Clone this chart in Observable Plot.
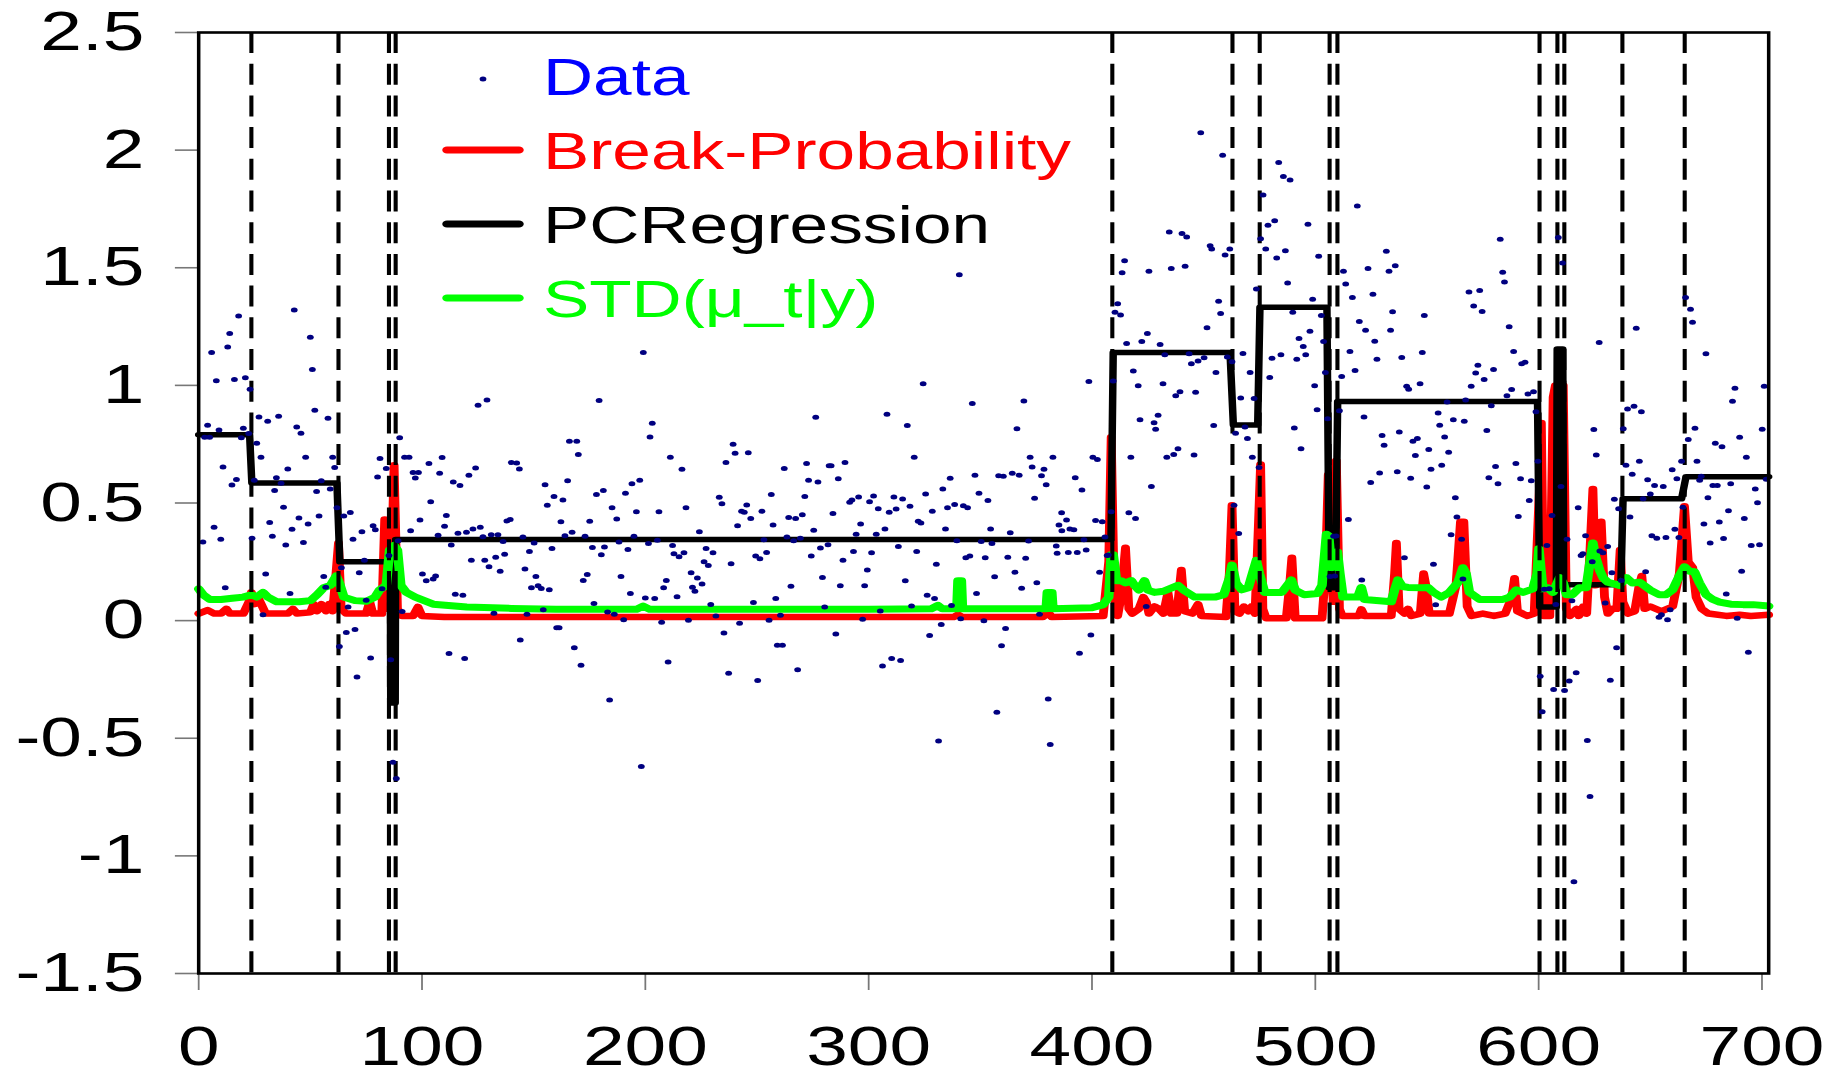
<!DOCTYPE html>
<html><head><meta charset="utf-8">
<script src="https://cdn.jsdelivr.net/npm/d3@7"></script>
<script src="https://cdn.jsdelivr.net/npm/@observablehq/plot@0.6"></script>
<style>
html,body{margin:0;padding:0;background:#fff;}
#chart{width:1834px;height:1079px;overflow:hidden;}
</style></head><body><div id="chart"></div>
<script>
const xTicks = [0,100,200,300,400,500,600,700];
const yTicks = [-1.5,-1,-0.5,0,0.5,1,1.5,2,2.5];
const breakLocations = [23.6,62.6,85.2,88.2,409.1,462.9,475.1,506.4,509.9,600.4,608.4,611.5,637.5,665.4];

const observations = [
[1.9,0.334],[2.7,0.78],[4,0.83],[4.9,0.78],[5.8,1.14],[6.9,0.397],[7.9,1.02],[9.1,0.81],[9.9,0.346],[10.9,0.653],[11.9,0.14],[13,1.163],[13.9,1.22],[14.9,0.576],[16,1.025],[16.9,0.6],[17.9,1.295],[19.1,0.777],[20,0.818],[20.9,1.032],[22.4,0.795],[23,0.984],[23.9,0.35],[24.9,0.597],[26,0.754],[27,0.866],[27.9,0.695],[28.8,0.025],[30,0.198],[30.9,0.848],[31.8,0.417],[33,0.359],[34,0.553],[34.8,0.607],[35.8,0.869],[36.9,0.584],[38,0.482],[39,0.321],[39.9,0.645],[40.9,0.115],[41.8,0.388],[42.8,1.32],[43.9,0.823],[44.9,0.436],[45.8,0.797],[46.9,0.332],[47.9,0.695],[49,0.411],[50,1.205],[50.9,1.067],[52,0.894],[52.8,0.549],[53.9,0.445],[54.9,0.595],[56,0.188],[56.9,0.142],[57.9,0.86],[58.9,0.559],[60,0.695],[60.9,0.651],[61.9,0.48],[63,-0.11],[63.9,0.225],[65,0.445],[66.1,-0.05],[66.9,0.058],[67.9,0.46],[69.1,0.346],[70,-0.038],[70.9,-0.24],[71.9,0.204],[73.1,0.378],[74.2,0.257],[75,0.087],[77,-0.159],[78.1,0.403],[79.1,0.386],[80.1,0.61],[81.2,0.689],[82.1,0.135],[84,0.647],[85.2,0.277],[86,-0.166],[87,-0.602],[88.5,-0.671],[89.3,0.34],[90,0.777],[91.1,0.039],[92.2,0.695],[94.2,0.695],[94.9,0.382],[96,0.63],[97,0.606],[98.4,0.63],[99.1,0.428],[100.2,0.198],[101.9,0.169],[103.1,0.668],[103.9,0.505],[105,0.177],[106.1,0.19],[107.2,0.363],[107.9,0.626],[109,0.693],[110.1,0.401],[110.9,0.447],[112.1,-0.14],[113.1,0.321],[114,0.589],[114.9,0.112],[116.1,0.371],[117,0.574],[118.3,0.108],[119.1,-0.161],[119.9,0.376],[121,0.618],[122.1,0.257],[122.8,0.39],[124,0.649],[125.1,0.915],[126.1,0.397],[127.3,0.357],[128.1,0.257],[129.1,0.938],[130,0.229],[131,0.365],[132.2,0.031],[133,0.269],[134,0.365],[135,0.21],[136.3,0.336],[137,0.282],[138,0.424],[139.5,0.43],[140,0.672],
[142.4,0.67],[143.6,0.645],[144,-0.082],[145.2,0.355],[146.1,0.219],[147,0.027],[148.1,0.294],[149,0.14],[150.2,0.33],[151,0.188],[152,0.148],[153.4,0.137],[154.3,0.046],[155.1,0.578],[156.1,0.49],[157,0.131],[158.2,0.307],[159.1,0.528],[160.3,-0.03],[161.4,-0.03],[162.2,0.42],[163.1,0.513],[164,0.361],[165.2,0.595],[166,0.762],[167.2,0.376],[168.2,-0.115],[169.3,0.762],[170,0.706],[171.2,-0.19],[172.2,0.171],[173,0.359],[174,0.196],[175.1,0.422],[176.3,0.311],[177,0.073],[178.1,0.536],[179.3,0.936],[180.3,0.28],[181.2,0.553],[181.7,0.313],[183.1,0.037],[184,-0.337],[185.1,0.48],[186.1,0.027],[187.2,0.432],[188.2,0.334],[189.1,0.188],[190.3,0.004],[191.1,0.541],[192.2,0.302],[193.3,0.115],[194,0.582],[194.9,0.359],[196,0.463],[197.5,0.597],[198.2,-0.62],[199.1,1.14],[200,0.096],[201.4,0.328],[202.1,0.781],[203.1,0.839],[204.2,0.094],[205.4,0.342],[206.1,0.463],[207.3,-0.007],[208.2,0.14],[209.4,0.171],[210.2,-0.176],[211.2,0.695],[212.2,0.319],[212.8,0.284],[214.2,0.102],[215.1,0.271],[216.4,0.643],[217.3,0.288],[218.2,0.48],[219.3,0.002],[220.5,0.204],[221.1,0.142],[222.2,0.125],[223.3,0.181],[224.2,0.378],[225.4,0.156],[226.3,0.25],[227.2,0.307],[228.2,0.234],[229.3,0.069],[230.3,0.288],[231.6,0.02],[233.1,0.524],[234.3,0.497],[235.2,-0.053],[236.1,0.672],[237.3,-0.224],[238.4,0.242],[239.3,0.75],[240.2,0.712],[241.3,0.403],[242.2,-0.011],[243.1,0.465],[244.3,0.461],[245.4,0.492],[246.1,0.714],[247.2,0.434],[248.4,0.077],[249.4,0.275],[250.3,-0.255],[251.3,0.263],[252.2,0.465],[253.1,0.344],[254.3,0.29],[255.4,0.002],[256.4,0.536],[257.2,0.407],[258.4,0.094],[259.1,-0.105],[260.5,0.023],[261.4,-0.105],[262.2,0.647],[263.4,0.355],[264.2,0.438],[265.2,0.146],[266.4,0.34],[267.3,0.434],[268.2,-0.209],[269.4,0.35],[270.3,0.45],[271.4,0.528],[272.2,0.668],[273.1,0.597],[274.3,0.275],[275.4,0.384],[276.3,0.864],[277.3,0.589],[278.4,0.309],[279.3,0.183],[280.3,0.058],[281.8,0.323],[282.3,0.658],
[283.2,0.658],[284,0.455],[285.3,-0.057],[286.4,0.603],[287.3,0.148],[288.5,0.257],[289.4,0.672],[291.5,0.503],[292.5,0.513],[293.2,0.294],[294.4,0.367],[295.5,0.526],[296.4,0.411],[297.3,0.006],[298.2,0.148],[299.4,0.215],[300.4,0.505],[301.3,0.288],[302.2,0.53],[303.4,0.367],[304.3,0.476],[305.2,0.041],[306.2,-0.193],[307.3,0.39],[308.2,0.877],[309.2,0.461],[310.3,-0.161],[311.3,0.526],[312.3,0.474],[313.3,0.315],[314.3,-0.17],[315.2,0.517],[316.4,0.169],[317.3,0.829],[318.5,0.486],[319.2,0.062],[320.4,0.695],[321.5,0.294],[322.2,0.422],[323.4,0.415],[324.4,1.007],[325.5,0.538],[326.2,0.108],[327.3,-0.063],[328.5,0.465],[329.5,0.094],[330.3,0.24],[331.3,-0.512],[332.5,-0.017],[333.2,0.559],[334.4,0.39],[335.3,0.48],[336.5,0.605],[337.1,0.064],[338.5,0.494],[339.5,0.34],[340.6,1.47],[341.2,0.008],[342.4,0.488],[343.5,0.267],[344.3,0.48],[345.3,0.275],[346.4,0.923],[347.6,0.618],[348.3,0.115],[349.4,0.541],[350.4,0.336],[351.6,0],[352.2,0.267],[353.4,0.511],[354.6,0.39],[355.2,0.328],[356.4,0.186],[357.4,-0.389],[358.2,0.616],[359.5,-0.107],[360.3,0.614],[361.3,-0.034],[362.3,0.269],[363.4,0.374],[364.3,0.626],[365.5,0.206],[366.4,0.816],[367.4,0.618],[368.5,0.138],[369.5,0.934],[370.3,0.265],[371.6,0.338],[372.3,0.695],[373.2,0.653],[374.3,0.52],[375.3,0.161],[376.5,0.027],[377.4,0.616],[378.5,0.643],[379.5,0.578],[380.4,-0.333],[381.3,-0.527],[382.5,0.695],[384,0.317],[384.4,0.286],[385.2,0.407],[386.4,0.459],[386.5,0.382],[388.6,0.428],[389.4,0.29],[390.1,0.39],[391.9,0.386],[392.5,0.607],[393.4,0.29],[394.4,-0.139],[395.5,0.555],[396.4,0.344],[397.4,0.3],[398.6,1.017],[399.5,-0.061],[400.4,0.695],[401.6,0.426],[402.4,0.685],[403.4,0.206],[404.6,0.42],[405.8,0.355],[406.8,0.277],[407.3,0.279],[408.6,0.463],[409.5,1.019],[410.3,1.311],[411.5,1.347],[412.8,1.299],[413.5,1.479],[414.6,1.53],[415.5,1.178],[416.5,0.459],[417.4,0.695],[418.5,1.061],[419.5,0.434],[420.7,0.998],[421.5,0.854],[422.3,1.186],
[424.3,0.06],[424.8,1.22],[425.5,1.485],[426.6,0.57],[427.8,0.841],[428.5,0.814],[429.6,0.873],[430.5,1.174],[431.8,1.007],[432.6,1.13],[433.5,0.695],[434.6,1.652],[435.5,1.497],[436.6,0.706],[437.5,0.956],[438.5,0.731],[439.4,0.973],[440.3,1.646],[441.7,1.506],[442.4,1.631],[443.5,1.134],[444.5,1.092],[445.7,0.704],[446.4,0.971],[447.5,1.104],[448.7,2.074],[450.2,1.117],[451.5,1.245],[452.9,1.593],[453.6,1.58],[454.5,0.829],[455.5,1.055],[456.7,1.358],[457.6,1.305],[458.5,1.978],[459.6,1.554],[460.6,1.121],[461.7,1.58],[462.7,1.1],[463.6,0.49],[464.3,0.796],[465.7,0.37],[466.6,0.946],[467.6,1.136],[468.5,0.823],[469.6,0.774],[470.8,1.055],[471.8,0.695],[472.6,0.944],[473.6,1.41],[474.8,0.651],[475.5,1.623],[476.6,1.809],[477.8,1.58],[478.8,1.681],[479.6,1.034],[480.6,1.115],[481.8,1.7],[482.7,1.541],[483.6,1.947],[484.6,1.13],[485.7,1.888],[486.6,1.572],[487.6,1.435],[488.7,1.873],[489.9,1.311],[490.6,0.819],[491.7,1.111],[492.7,1.199],[493.6,0.731],[494.6,1.165],[495.7,1.13],[496.7,1.685],[497.6,1.23],[498.8,1.366],[499.7,0.998],[500.8,0.896],[501.5,1.549],[502.7,1.297],[503.7,1.186],[504.5,1.055],[505.5,0.858],[506.6,0.188],[508.2,0.359],[508.7,0.19],[509.3,0.36],[510.8,0.892],[511.8,1.038],[512.6,1.485],[513.6,1.431],[514.8,0.43],[515.5,1.144],[516.6,1.374],[517.8,1.063],[518.8,1.763],[519.7,1.272],[520.8,0.173],[521.8,0.866],[522.5,1.234],[523.6,1.497],[524.8,0.587],[525.8,1.387],[526.6,1.188],[527.6,1.111],[528.8,0.628],[529.9,0.787],[530.8,0.745],[531.8,1.57],[533,1.485],[533.7,1.234],[534.6,1.313],[535.8,1.508],[536.7,0.633],[537.6,0.802],[538.7,1.119],[539.9,0.267],[540.9,0.996],[541.8,0.983],[542.7,0.605],[543.7,0.762],[544.8,0.702],[545.7,0.774],[546.9,1.007],[547.9,1.14],[548.8,1.297],[549.9,0.568],[550.8,0.727],[551.8,0.643],[552.9,0.24],[553.9,0.067],[555,0.883],[555.7,0.831],[556.6,0.66],[557.9,0.781],[559,0.929],[559.7,0.716],[560.8,0.365],[561.8,0.854],[562.7,0.522],[563.4,0.44],
[565.5,0.346],[566.1,0.177],[566.7,0.848],[567.3,0.938],[568.8,1.397],[569.8,0.996],[570.9,1.337],[571.8,1.053],[572.8,1.086],[573.6,1.403],[574.7,1.314],[575.6,1.025],[576.8,0.808],[577.7,0.607],[578.8,0.913],[579.8,1.067],[580.7,0.655],[581.8,0.582],[582.8,1.621],[583.9,1.481],[584.7,1.439],[585.8,0.956],[586.8,1.249],[587.9,0.982],[588.8,1.144],[589.8,0.668],[590.9,0.443],[591.9,0.603],[592.4,1.092],[593.9,1.098],[595.2,0.963],[595.8,0.511],[596.7,0.595],[597.7,0.973],[598.8,0.888],[599.7,0.678],[600.7,-0.236],[601.6,-0.387],[602.5,0.133],[603.7,0.319],[604.7,0.135],[606,0.447],[606.7,-0.293],[607.7,0.069],[608.8,1.629],[610,0.57],[610.7,1.52],[611.6,-0.297],[612.7,0.346],[613.7,-0.257],[614.9,0.085],[615.8,-1.11],[616.8,-0.222],[617.7,0.48],[619,0.277],[619.8,0.284],[621,0.361],[621.8,-0.51],[623,-0.748],[624,0.25],[624.7,0.812],[625.8,0.704],[627.1,1.182],[627.4,0.296],[628.8,0.288],[629.8,0.075],[630.9,0.315],[632.1,-0.253],[632.8,0.204],[633.9,0.516],[634.9,-0.115],[635.8,0.476],[637,0.171],[637.9,0.816],[639.1,0.66],[639.8,0.9],[640.9,0.44],[641.9,0.622],[642.7,0.911],[643.7,1.243],[645.1,0.678],[646,0.888],[646.8,0.518],[647.9,0.208],[648.8,0.599],[650,0.538],[650.7,0.361],[651.9,0.574],[652.9,0.35],[653.9,0.014],[655,0.025],[655.8,0.57],[657,0.353],[657.7,0.004],[658.9,0.046],[659.8,0.641],[661,0.388],[661.9,0.603],[662.8,0.353],[664,0.678],[664.6,0.482],[665.8,1.374],[667,0.77],[668,1.324],[668.9,1.268],[670,0.818],[670.9,0.678],[672.1,0.597],[672.8,0.614],[674,0.411],[674.9,1.134],[675.8,0.522],[676.8,0.33],[678,0.574],[679.1,0.754],[680,0.574],[680.9,0.419],[682.1,0.739],[682.8,0.349],[684,0.113],[685,0.467],[686,0.582],[686.8,0.933],[687.9,0.988],[688.9,0.01],[690,0.779],[690.9,0.21],[692.1,0.434],[693,0.695],[693.9,-0.134],[695.2,0.319],[697,0.559],[698,0.501],[698.9,0.323],[700.1,0.814],[701,0.996],[701.9,0.601]
];

const pcRegression = [
[0,0.79],[22.8,0.79],[23.8,0.585],[61.9,0.585],[63.2,0.25],[85.8,0.25],[86.0,-0.35],[88.0,-0.35],[88.2,0.345],[408.5,0.345],[409.5,1.14],[461.8,1.14],[463.3,0.832],[474.2,0.832],[475.2,1.332],[505.2,1.332],[506.2,0.14],[509,0.14],[510,0.931],[599.5,0.931],[600.5,0.058],[607.9,0.058],[608.3,1.155],[610.8,1.155],[611.2,0.152],[636.8,0.152],[637.8,0.518],[664,0.518],[666,0.612],[703,0.612]
];

const breakProbability = [
[0,0.03],[4,0.045],[7,0.03],[10,0.03],[12.4,0.05],[14,0.03],[20,0.03],[22.5,0.08],[23.6,0.12],[25,0.07],[26.5,0.1],[28,0.07],[30,0.03],[40,0.03],[42.2,0.05],[44,0.03],[50,0.035],[51.5,0.07],[53,0.04],[55,0.07],[57,0.04],[58.5,0.07],[60,0.04],[61.5,0.2],[62.6,0.33],[63.8,0.05],[66,0.03],[75,0.03],[76.6,0.08],[78,0.03],[82,0.03],[83.3,0.43],[84.5,0.05],[86,0.1],[87.5,0.66],[89,0.05],[91,0.02],[96,0.02],[98.2,0.058],[100,0.02],[110,0.015],[200,0.015],[300,0.015],[338,0.015],[340,0.025],[342,0.015],[378,0.015],[380.3,0.037],[382,0.015],[405,0.02],[407.5,0.25],[408.6,0.78],[410,0.1],[411.5,0.02],[413,0.1],[415,0.31],[416.5,0.05],[418,0.03],[421,0.05],[423,0.1],[424.3,0.08],[425.5,0.03],[428,0.06],[430,0.05],[432,0.03],[434,0.12],[435.5,0.03],[438,0.03],[440,0.215],[441.5,0.04],[445,0.03],[447.5,0.07],[449,0.02],[460,0.015],[461.5,0.2],[462.7,0.49],[464,0.04],[466,0.03],[468,0.06],[470,0.04],[471.5,0.06],[473,0.03],[474.5,0.4],[475.5,0.664],[476.5,0.05],[478,0.01],[487,0.01],[488.5,0.15],[489.5,0.267],[491,0.01],[503,0.01],[504.5,0.2],[505.8,0.62],[507,0.3],[508,0.08],[509.4,0.68],[510.8,0.05],[512,0.02],[519.5,0.02],[520.6,0.048],[522,0.02],[534,0.02],[535.5,0.2],[536.3,0.33],[537.5,0.05],[540,0.03],[541.5,0.05],[543,0.02],[547,0.03],[548.5,0.2],[549.5,0.15],[551,0.03],[556,0.03],[560,0.03],[563,0.15],[565,0.42],[566.5,0.42],[568,0.06],[570,0.02],[575,0.03],[580,0.02],[585,0.03],[588,0.1],[589.2,0.18],[590.5,0.04],[595,0.02],[598,0.03],[600.3,0.55],[601.2,0.84],[602.3,0.02],[605,0.02],[606.5,0.95],[607.5,1.0],[611,1.0],[612.4,0.05],[614,0.02],[617,0.05],[618,0.02],[620,0.06],[621.5,0.03],[623,0.3],[624.3,0.56],[625.5,0.15],[627,0.3],[628,0.42],[629.5,0.1],[631,0.03],[633,0.05],[635,0.05],[636.5,0.3],[637.7,0.08],[640,0.03],[643,0.04],[645,0.15],[646.2,0.19],[647.5,0.05],[650,0.06],[655,0.04],[660,0.06],[663,0.2],[665.3,0.486],[667,0.25],[669,0.225],[670.5,0.1],[673,0.05],[676,0.03],[684,0.02],[690,0.025],[695,0.02],[703,0.025]
];

const stdMu = [
[0,0.135],[2,0.11],[5,0.09],[10,0.09],[15,0.095],[20,0.1],[23.6,0.11],[26,0.1],[28.8,0.12],[31,0.1],[35,0.08],[45,0.08],[50,0.085],[53,0.11],[56,0.14],[59,0.15],[61.6,0.19],[63,0.16],[65,0.1],[70,0.085],[75,0.082],[79,0.1],[81,0.13],[84,0.15],[85.5,0.3],[87.5,0.32],[89,0.3],[90.5,0.15],[93,0.12],[97,0.1],[105,0.07],[120,0.058],[140,0.052],[160,0.048],[196,0.048],[199,0.062],[202,0.048],[300,0.048],[328,0.05],[331,0.065],[333,0.05],[339.5,0.05],[340,0.17],[341.5,0.17],[342,0.05],[379.5,0.05],[380,0.12],[382,0.12],[382.5,0.05],[400,0.055],[405,0.068],[407.5,0.1],[408.6,0.28],[409.5,0.28],[411,0.17],[413,0.17],[415,0.16],[417.6,0.17],[419,0.15],[421,0.13],[423.5,0.17],[425,0.13],[428,0.12],[432,0.125],[438.5,0.15],[441,0.13],[446,0.1],[455,0.1],[459,0.11],[461.5,0.18],[462.7,0.236],[464.5,0.16],[467,0.131],[470,0.14],[473.6,0.256],[475,0.2],[477.3,0.12],[485,0.12],[489.3,0.173],[491,0.13],[495,0.11],[501,0.115],[503,0.15],[505,0.367],[506,0.36],[507.2,0.225],[508.5,0.25],[509.9,0.292],[511,0.2],[512.4,0.1],[519,0.1],[520.6,0.141],[522,0.09],[534,0.08],[535.5,0.13],[537,0.173],[539,0.145],[541.5,0.141],[548,0.14],[550.5,0.141],[553,0.12],[556.4,0.1],[560,0.12],[563.9,0.163],[566.1,0.225],[567.5,0.2],[569,0.12],[573.6,0.09],[584,0.09],[587,0.1],[590,0.131],[593,0.12],[597.4,0.135],[599.3,0.2],[600.1,0.305],[601.2,0.2],[601.9,0.135],[604,0.14],[606.4,0.12],[609.4,0.183],[611,0.16],[612.5,0.11],[615,0.11],[618.3,0.14],[621.3,0.14],[623,0.25],[624.3,0.33],[625.5,0.27],[627.3,0.215],[629,0.18],[631,0.163],[636.2,0.15],[639.2,0.183],[642,0.16],[645.2,0.163],[650,0.13],[654,0.11],[657,0.11],[660,0.131],[663,0.19],[665.3,0.229],[667.5,0.21],[669.8,0.208],[672,0.16],[675,0.11],[678,0.09],[681,0.079],[686,0.07],[691.5,0.068],[696,0.068],[703,0.062]
];

const legendLabels = ["Data","Break-Probability","PCRegression","STD(μ_t|y)"];
const legendColors = ["#0000ff","#ff0000","#000000","#00ff00"];
const legendKinds = ["dot","line","line","line"];

const toRows = arr => arr.map(([t, v]) => ({t, v}));
const FONT = "'Liberation Sans', Arial, Helvetica, sans-serif";

// The reference is a horizontally stretched rendering; draw in a narrower
// coordinate space and stretch the SVG to the page width.
const W = 1834, H = 1079, STRETCH = 1.36;
const W0 = W / STRETCH;

const plot = Plot.plot({
  width: W0, height: H,
  marginLeft: 198 / STRETCH, marginRight: 66 / STRETCH, marginTop: 32, marginBottom: 106,
  x: {domain: [0, 703]},
  y: {domain: [-1.5, 2.5]},
  style: {fontFamily: FONT, background: "#fff", color: "#000"},
  marks: [
    Plot.axisY({ticks: yTicks, tickSize: 17, tickPadding: 23, fontSize: 55, tickFormat: d => String(d), stroke: "#777", strokeWidth: 1.6, fill: "#000", label: null}),
    Plot.axisX({ticks: xTicks, tickSize: 17, tickPadding: 35, fontSize: 55, tickFormat: d => String(d), stroke: "#777", strokeWidth: 1.3, fill: "#000", label: null}),
    Plot.line(toRows(breakProbability), {x: "t", y: "v", stroke: "#ff0000", strokeWidth: 6.5, strokeLinejoin: "round"}),
    Plot.line(toRows(pcRegression), {x: "t", y: "v", stroke: "#000000", strokeWidth: 5.5, strokeLinejoin: "round"}),
    Plot.line(toRows(stdMu), {x: "t", y: "v", stroke: "#00ff00", strokeWidth: 7, strokeLinejoin: "round"}),
    Plot.ruleX(breakLocations, {stroke: "#000", strokeWidth: 3, strokeDasharray: "21,10.7"}),
    Plot.dot(toRows(observations), {x: "t", y: "v", r: 2.5, fill: "#000080", stroke: "none"}),
    Plot.frame({stroke: "#000", strokeWidth: 2.6})
  ]
});

plot.setAttribute("width", W);
plot.setAttribute("height", H);
plot.setAttribute("viewBox", `0 0 ${W0} ${H}`);
plot.setAttribute("preserveAspectRatio", "none");
plot.style.width = W + "px";
plot.style.height = H + "px";
plot.style.maxWidth = "none";
document.getElementById("chart").appendChild(plot);

// legend inside the plot area (coordinates in the narrow drawing space)
const svg = d3.select(plot);
const lg = svg.append("g").attr("font-family", FONT).attr("text-anchor", "start");
legendLabels.forEach((label, i) => {
  const base = 95 + i * 74;
  const cy = base - 19;
  if (legendKinds[i] === "dot") {
    lg.append("circle").attr("cx", 483 / STRETCH).attr("cy", base - 16).attr("r", 2.5).attr("fill", "#000080");
  } else {
    lg.append("line").attr("x1", 447 / STRETCH).attr("x2", 519 / STRETCH).attr("y1", cy).attr("y2", cy)
      .attr("stroke", legendColors[i]).attr("stroke-width", 7).attr("stroke-linecap", "round");
  }
  lg.append("text").attr("x", 543 / STRETCH).attr("y", base).attr("font-size", 51)
    .attr("text-anchor", "start").attr("fill", legendColors[i]).text(label);
});
</script>
</body></html>
